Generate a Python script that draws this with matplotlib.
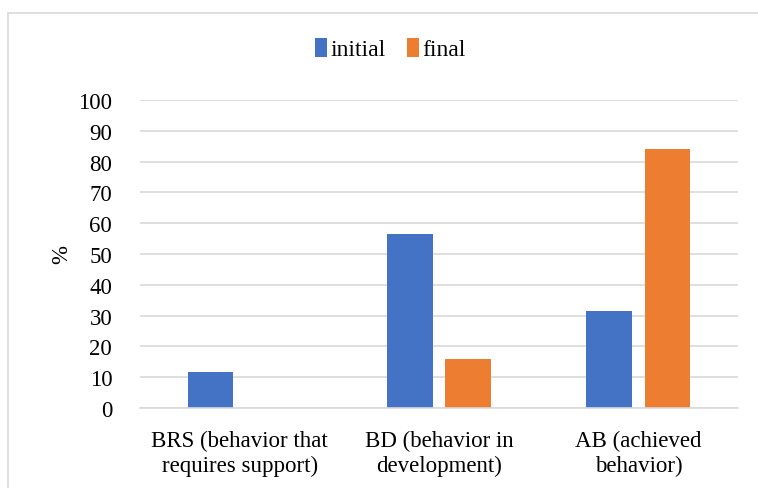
import matplotlib
matplotlib.use("Agg")
import matplotlib.pyplot as plt
import numpy as np
from matplotlib.patches import Rectangle

# Data for plotting
categories = ["BRS (behavior that\nrequires support)",
              "BD (behavior in\ndevelopment)",
              "AB (achieved\nbehavior)"]
initial = [11.8, 56.6, 31.6]
final = [0.0, 15.8, 84.2]
yticks = [0, 10, 20, 30, 40, 50, 60, 70, 80, 90, 100]

plt.rcParams['font.family'] = ['Liberation Serif', 'DejaVu Serif']

fig = plt.figure(figsize=(7.58, 4.89), dpi=100)
ax = fig.add_axes([0.1847, 0.1636, 0.789, 0.63])

# chart frame, running off the right/bottom edges
fig.patches.append(Rectangle((8 / 758, -0.1), 1.2, 1 - 14 / 489 + 0.1,
                             transform=fig.transFigure, fill=False,
                             edgecolor='#d9d9d9', linewidth=1.2))

x = np.arange(len(categories))
w = 0.23
off = 0.146
ax.bar(x - off, initial, w, color='#4472c4', label='initial')
ax.bar(x + off, final, w, color='#ed7d31', label='final')

ax.set_xlim(-0.5, len(categories) - 0.5)
ax.set_ylim(0, 100)
ax.set_yticks(yticks)
ax.set_xticks(x)
ax.set_xticklabels(categories, fontsize=16.5, linespacing=1.2)
ax.tick_params(axis='y', labelsize=16.5, length=0, pad=20)
ax.tick_params(axis='x', length=0, pad=16)
ax.grid(axis='y', color='#d9d9d9', linewidth=1.2)
ax.set_axisbelow(True)
for s in ['top', 'right', 'left']:
    ax.spines[s].set_visible(False)
ax.spines['bottom'].set_color('#d9d9d9')
ax.spines['bottom'].set_linewidth(1.2)
ax.set_ylabel('%', fontsize=16.5, labelpad=4)

fig.legend(loc='center', bbox_to_anchor=(0.515, 1 - 50 / 489), ncol=2,
           frameon=False, fontsize=17, handlelength=0.5, handleheight=0.85,
           handletextpad=0.15, columnspacing=0.9)

fig.savefig("out.png")
